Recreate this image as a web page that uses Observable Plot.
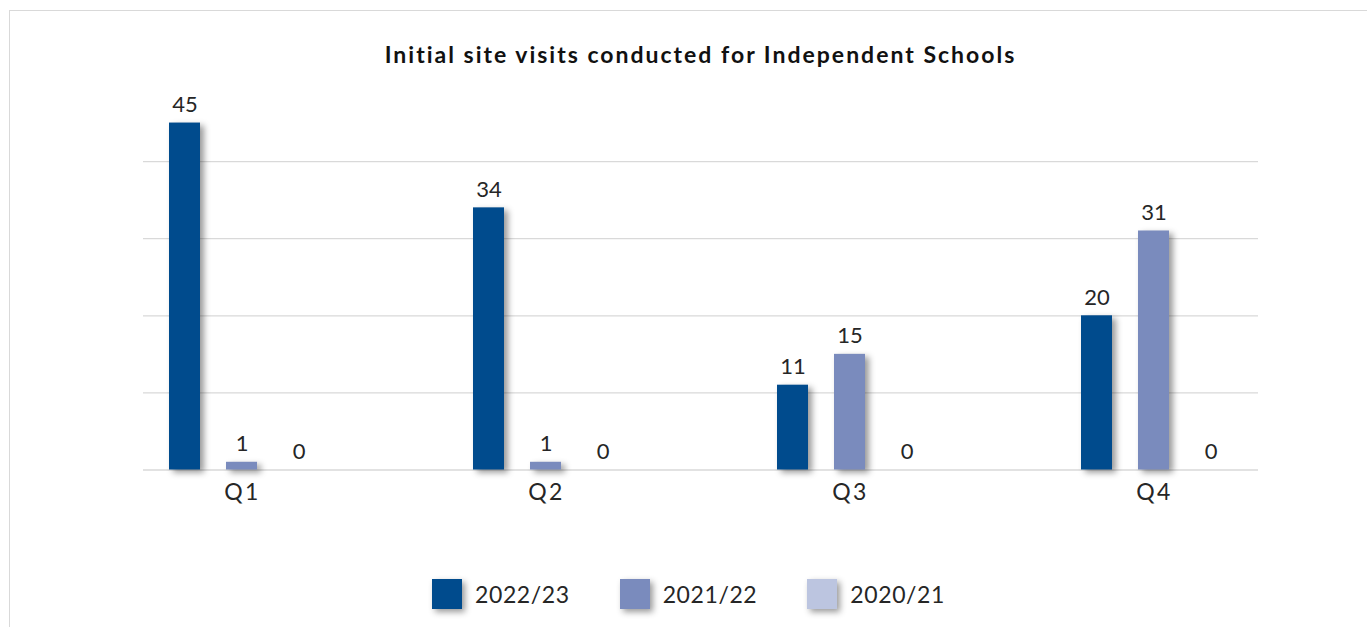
<!DOCTYPE html>
<html>
<head>
<meta charset="utf-8">
<script src="https://cdn.jsdelivr.net/npm/d3@7"></script>
<script src="https://cdn.jsdelivr.net/npm/@observablehq/plot@0.6"></script>
<style>
  html, body { margin: 0; padding: 0; width: 1367px; height: 627px; overflow: hidden; background: #fff; }
  body { position: relative; font-family: Lato, "Open Sans", sans-serif; color: #262626; }
  #frame { position: absolute; left: 9px; top: 10px; width: 1380px; height: 640px; border: 1.5px solid #d9d9d9; box-sizing: border-box; }
  #title { position: absolute; left: 143px; width: 1115px; top: 40px; text-align: center; font-weight: 700; font-size: 23px; color: #111; letter-spacing: 2px; }
  #grid, #chart { position: absolute; left: 0; top: 75px; }
  #legend { position: absolute; left: 0; width: 1377px; top: 579px; display: flex; justify-content: center; align-items: center; font-size: 23px; letter-spacing: 0.6px; }
  .item { display: flex; align-items: center; margin: 0 25px; }
  .sw { width: 30px; height: 30px; margin-right: 13px; filter: drop-shadow(3px 3px 3px rgba(0,0,0,0.4)); }
  #chart g[aria-label="bar"] rect { filter: drop-shadow(4px 3px 3px rgba(0,0,0,0.4)); }
</style>
</head>
<body>
<div id="frame"></div>
<div id="title">Initial site visits conducted for Independent Schools</div>
<div id="grid"></div>
<div id="chart"></div>
<div id="legend"></div>
<script>
const quarters = ["Q1", "Q2", "Q3", "Q4"];
const seriesNames = ["2022/23", "2021/22", "2020/21"];
const values2022_23 = [45, 34, 11, 20];
const values2021_22 = [1, 1, 15, 31];
const values2020_21 = [0, 0, 0, 0];
const gridTicks = [10, 20, 30, 40];
const seriesColors = ["#004b8d", "#7a8bbd", "#bcc5e0"];

const seriesValues = [values2022_23, values2021_22, values2020_21];
const data = quarters.flatMap((q, i) =>
  seriesNames.map((s, j) => ({quarter: q, series: s, value: seriesValues[j][i]}))
);

const common = {
  width: 1367,
  height: 450,
  marginTop: 9,
  marginBottom: 55.5,
  marginLeft: 143,
  marginRight: 109,
  y: {domain: [0, 50], axis: null}
};

// background gridlines spanning the full plot area
const grid = Plot.plot({
  ...common,
  style: {background: "transparent"},
  marks: [
    Plot.ruleY(gridTicks, {stroke: "#d9d9d9", strokeWidth: 1.3}),
    Plot.ruleY([0], {stroke: "#d9d9d9", strokeWidth: 1.6})
  ]
});
document.getElementById("grid").appendChild(grid);

const chart = Plot.plot({
  ...common,
  style: {fontFamily: "Lato, 'Open Sans', sans-serif", color: "#262626", background: "transparent"},
  fx: {domain: quarters, range: [135, 1260], paddingInner: 0.5, paddingOuter: 0.1, label: null, axis: null},
  x: {domain: seriesNames, paddingInner: 0.456, paddingOuter: 0.06, axis: null},
  color: {domain: seriesNames, range: seriesColors},
  marks: [
    Plot.barY(data, {fx: "quarter", x: "series", y: "value", fill: "series"}),
    Plot.text(data, {fx: "quarter", x: "series", y: "value", text: "value", dy: -11, lineAnchor: "bottom", fontSize: 22, fill: "#262626"}),
    Plot.text(quarters, {fx: (d) => d, text: (d) => d, frameAnchor: "bottom", lineAnchor: "top", dy: 14, fontSize: 23, fill: "#262626"})
  ]
});
d3.select(chart).selectAll('g[aria-label="text"]').filter((d, i) => i === 1).attr("letter-spacing", "2.5px");
document.getElementById("chart").appendChild(chart);

const legend = document.getElementById("legend");
seriesNames.forEach((s, i) => {
  const item = document.createElement("div");
  item.className = "item";
  const sw = document.createElement("div");
  sw.className = "sw";
  sw.style.background = seriesColors[i];
  const lab = document.createElement("span");
  lab.textContent = s;
  item.appendChild(sw);
  item.appendChild(lab);
  legend.appendChild(item);
});
</script>
</body>
</html>
